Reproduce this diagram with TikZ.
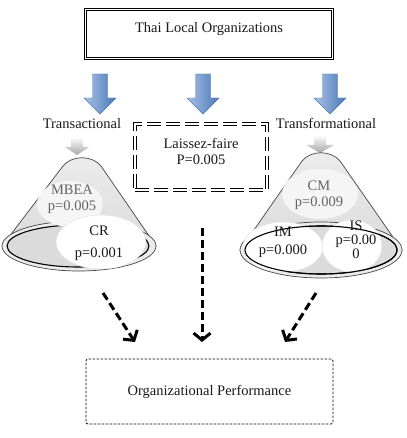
\documentclass[tikz,border=0pt]{standalone}
\usepackage{fontspec}
\setmainfont{Liberation Serif}
\usetikzlibrary{arrows.meta,positioning,shapes.geometric}
\definecolor{arrowlight}{RGB}{168,194,228}
\definecolor{arrowdark}{RGB}{74,120,184}
\definecolor{coneedge}{RGB}{70,70,70}
\definecolor{labelgray}{RGB}{100,100,100}
\definecolor{textdark}{RGB}{25,25,25}

% block arrows (x, top)
\newcommand{\bluedown}[1]{%
  \shadedraw[left color=arrowlight, right color=arrowdark, draw=arrowdark, line width=0.4pt]
    (#1-7.5,74) -- (#1+7.5,74) -- (#1+7.5,98) -- (#1+16,98) -- (#1,114) -- (#1-16,98) -- (#1-7.5,98) -- cycle;}
\newcommand{\graydown}[3]{%
  \shade[top color=white, bottom color=gray!70]
    (#1-6,#2) -- (#1+6,#2) -- (#1+6,#2+10) -- (#1+#3,#2+10) -- (#1,#2+18) -- (#1-#3,#2+10) -- (#1-6,#2+10) -- cycle;}

\begin{document}
\begin{tikzpicture}[x=1pt, y=-1pt,
    txt/.style={font=\fontsize{14.5}{16}\selectfont, inner sep=0pt, align=center, text=textdark},
    dimtxt/.style={txt, text=labelgray},
    topbox/.style={txt, draw, double, double distance=1.6pt, line width=1pt, minimum width=247pt, minimum height=49pt},
    lfbox/.style={txt, draw, double, double distance=1.6pt, line width=1pt, dash pattern=on 14pt off 5pt, minimum width=132pt, minimum height=66pt},
    perfbox/.style={txt, draw, line width=0.8pt, dash pattern=on 2.5pt off 1.5pt, rounded corners=2pt, minimum width=247pt, minimum height=65pt},
    conebody/.style={top color=gray!15, bottom color=gray!28, draw=coneedge, line width=0.7pt},
    outerbase/.style={fill=gray!15, draw=coneedge, line width=0.7pt},
    innerbase/.style={fill=gray!28, draw=black, line width=1.1pt},
    factor/.style={ellipse, inner sep=0pt, draw=gray!25, line width=0.4pt},
    dasharrow/.style={line width=3pt, dash pattern=on 8pt off 4pt, -{Straight Barb[length=7pt, width=17pt]}}
]
    \useasboundingbox (0,0) rectangle (406,438);

    % Top and bottom boxes
    \node[topbox] (orgs) at (209,34) {Thai Local Organizations\rule[-14pt]{0pt}{1pt}};
    \node[perfbox] (perf) at (209.5,391.5) {Organizational Performance};

    % Leadership styles
    \bluedown{100}
    \bluedown{203}
    \bluedown{330}
    \node[txt] (transac) at (82,124) {Transactional};
    \node[txt] (transf) at (326,123) {Transformational};
    \node[lfbox] (laissez) at (201,157) {Laissez-faire\\P=0.005\rule[-12pt]{0pt}{1pt}};

    % Transactional cone
    \graydown{77}{137}{12}
    \path[conebody] (2,246) -- (63,166) .. controls (72,155) and (92,155) .. (101,166) -- (156,246) -- cycle;
    \path[outerbase] (79,246) ellipse [x radius=77, y radius=25];
    \path[innerbase] (78,246) ellipse [x radius=71, y radius=21];
    \node[factor, draw=none, fill=gray!8, minimum width=66pt, minimum height=46pt] (mbeaell) at (70,204) {};
    \node[factor, fill=white, minimum width=90pt, minimum height=54pt] (crell) at (101,242) {};
    \node[dimtxt] (mbea) at (72,199) {MBEA\\p=0.005};
    \node[txt] (cr) at (99,243) {CR\\[6pt]p=0.001};

    % Transformational cone
    \graydown{320}{135}{14}
    \path[conebody] (240,250) -- (302,161) .. controls (311,150) and (331,150) .. (340,161) -- (402,250) -- cycle;
    \path[outerbase] (321,250) ellipse [x radius=81, y radius=28];
    \path[innerbase] (321,250) ellipse [x radius=76, y radius=24];
    \node[factor, draw=none, fill=gray!8, minimum width=76pt, minimum height=50pt] (cmell) at (320,194) {};
    \node[factor, fill=white, minimum width=80pt, minimum height=50pt] (imell) at (283,247) {};
    \node[factor, fill=white, minimum width=60pt, minimum height=52pt] (isell) at (352,246) {};
    \draw[black, line width=1.1pt] (321,250) ellipse [x radius=76, y radius=24];
    \node[dimtxt] (cm) at (319,195) {CM\\p=0.009};
    \node[txt] (im) at (283,242) {IM\\[2pt]p=0.000};
    \node[txt] (is) at (356,240) {IS\\[-2pt]p=0.00\\[-2pt]0};

    % Effects on performance
    \coordinate (lstart) at (103,293);
    \coordinate (lend) at (135,342);
    \coordinate (mstart) at (202,228);
    \coordinate (mend) at (202,342);
    \coordinate (rstart) at (316,293);
    \coordinate (rend) at (285,342);
    \draw[dasharrow] (lstart) -- (lend);
    \draw[dasharrow] (mstart) -- (mend);
    \draw[dasharrow] (rstart) -- (rend);
\end{tikzpicture}
\end{document}
